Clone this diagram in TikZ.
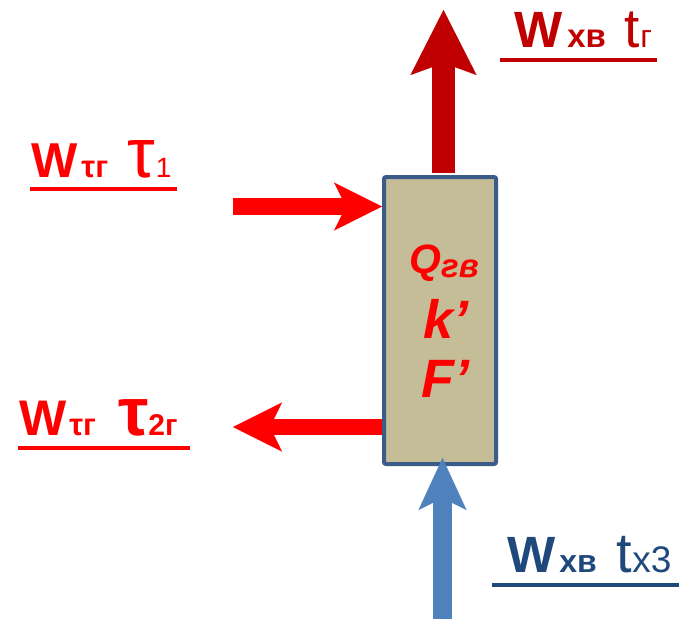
\documentclass[tikz,border=0pt]{standalone}
\usepackage{fontspec}
\setmainfont{Liberation Sans}
\usetikzlibrary{arrows.meta}
\definecolor{dred}{HTML}{C00000}
\definecolor{bred}{HTML}{FF0000}
\definecolor{lblue}{HTML}{4F81BD}
\definecolor{navy}{HTML}{1F497D}
\definecolor{tan}{HTML}{C4BD97}
\definecolor{bord}{HTML}{3B5B89}
\newcommand{\fs}[1]{\fontsize{#1}{#1}\selectfont}
\newcommand{\lo}[2]{\raisebox{-#1pt}{#2}}
\begin{document}
\begin{tikzpicture}[x=1pt,y=-1pt,
  lab/.style={inner sep=0pt, anchor=base west},
  ulbar/.style={line width=3.5pt},
  boxtxt/.style={inner sep=0pt, anchor=base, text=bred, font=\bfseries\itshape},
  hx/.style={draw=bord, line width=4pt, fill=tan, rounded corners=2pt, minimum width=112pt, minimum height=287pt, inner sep=0pt},
  fat/.style args={#1/#2/#3/#4}{draw=#1, line width=#2pt, -{Stealth[length=#3pt, width=#4pt, inset=12pt, line width=0.1pt]}}
]
\useasboundingbox (0,0) rectangle (679,619);
% box
\node[hx] (box) at (440,320.5) {};
\node[boxtxt] (q) at (444,273) {\fs{41}Q\lo{4}{\fs{33}гв}};
\node[boxtxt] (k) at (446,338) {\fs{54}k’};
\node[boxtxt] (f) at (445,397) {\fs{54}F’};
% free ends
\coordinate (topend) at (443.5,10);
\coordinate (ltin) at (233,206.5);
\coordinate (lbout) at (233,427);
\coordinate (botin) at (442.5,619);
% arrows
\draw[fat=dred/23/65/66] ([yshift=2pt]box.north -| topend) -- (topend);
\draw[fat=bred/17/48/48] (ltin) -- (ltin -| box.west);
\draw[fat=bred/16/49/49] (lbout -| box.west) -- (lbout);
\draw[fat=lblue/19/52/48] (botin) -- ([yshift=8pt]box.south -| botin);
% labels
\node[lab, text=dred] (l1) at (514,47) {\fs{51}\bfseries W\kern5pt{\fs{33}хв}\kern19pt\fs{55}\mdseries t\kern0pt{\fs{32}г}};
\draw[ulbar, dred] (l1.base west) ++(-14,13) -- ++(157,0);
\node[lab, text=bred] (l2) at (31,177) {\fs{49}\bfseries W\kern4pt{\fs{31}τг}\kern19pt{\fs{70}\mdseries τ}\kern1pt{\fs{28}\mdseries 1}};
\draw[ulbar, bred] (l2.base west) ++(-1,12) -- ++(147,0);
\node[lab, text=bred] (l3) at (19,435) {\fs{50}\bfseries W\kern3pt{\fs{31}τг}\kern22pt{\fs{68}τ}{\fs{30}2г}};
\draw[ulbar, bred] (l3.base west) ++(-1,13) -- ++(172,0);
\node[lab, text=navy] (l4) at (507,572) {\fs{51}\bfseries W\kern4pt{\fs{32}хв}\kern20pt{\fs{56}\mdseries t}{\fs{37}\mdseries х3}};
\draw[ulbar, navy] (l4.base west) ++(-15,13) -- ++(187,0);
\end{tikzpicture}
\end{document}
